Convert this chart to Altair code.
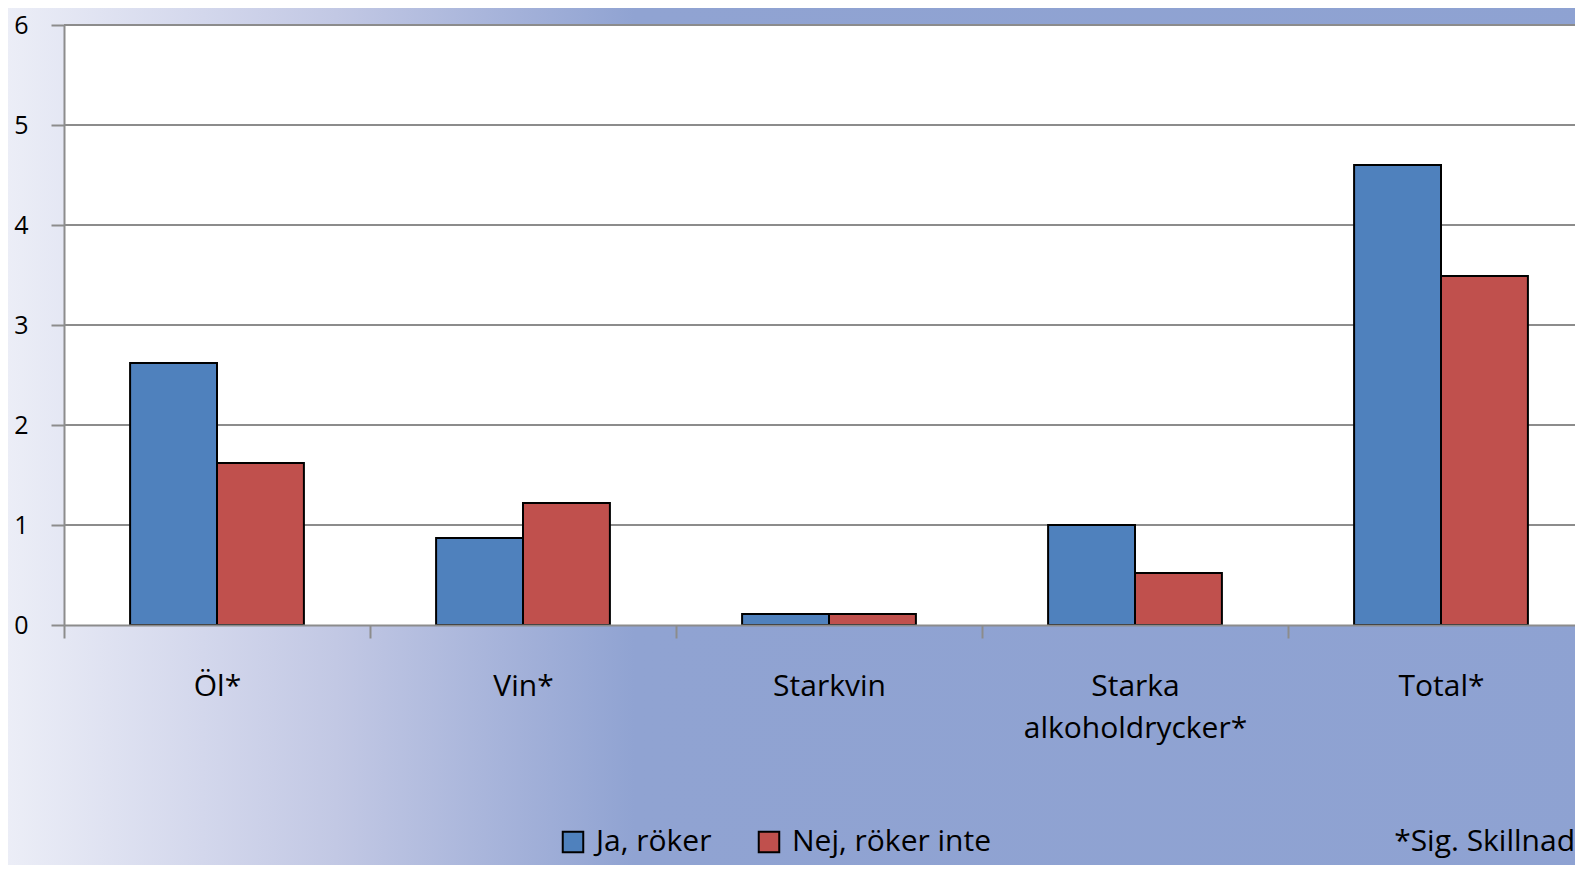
import altair as alt
import pandas as pd

categories = ["Öl*", "Vin*", "Starkvin", "Starka alkoholdrycker*", "Total*"]
series = ["Ja, röker", "Nej, röker inte"]
ja_values = [2.62, 0.87, 0.11, 1.00, 4.60]
nej_values = [1.62, 1.22, 0.11, 0.52, 3.49]
y_ticks = [0, 1, 2, 3, 4, 5, 6]
grid_values = [1, 2, 3, 4, 5, 6]
note = ["*Sig. Skillnad"]
colors = ["#4f81bd", "#c0504d"]

rows = []
for i, c in enumerate(categories):
    rows.append({"kategori": c, "serie": series[0], "varde": ja_values[i]})
    rows.append({"kategori": c, "serie": series[1], "varde": nej_values[i]})
df = pd.DataFrame(rows)

W = 1511
H = 600
TOP = 17
RANGE = 1530
STEP = RANGE / len(categories)
FONT = "Open Sans"
AXIS_GRAY = "#8c8c8c"

x_scale = alt.Scale(domain=categories, range=[0, RANGE], paddingInner=0.432, paddingOuter=0.216)
y_scale = alt.Scale(domain=[0, 6], nice=False)

x_axis = alt.Axis(
    title=None, labelAngle=0, tickSize=13, tickColor=AXIS_GRAY,
    tickOffset=-STEP / 2, labelOffset=STEP / 2,
    tickWidth=2, domainColor=AXIS_GRAY, domainWidth=2, labelFont=FONT,
    labelFontSize=30, labelColor="black", labelPadding=33, labelBaseline="top",
    labelExpr="split(datum.label, ' ')", labelLineHeight=42, labelLimit=0,
    grid=False, zindex=1,
)
y_axis = alt.Axis(
    title=None, values=y_ticks, tickSize=13, tickColor=AXIS_GRAY, tickWidth=2,
    domainColor=AXIS_GRAY, domainWidth=2, labelFont=FONT, labelFontSize=25,
    labelColor="black", labelPadding=23, grid=False, zindex=1,
)

one = pd.DataFrame({"k": [0]})

bg = alt.Chart(one).mark_rect(
    fill=alt.Gradient(
        gradient="linear", x1=0, x2=1, y1=0, y2=0,
        stops=[
            alt.GradientStop(color="#eceef7", offset=0.0),
            alt.GradientStop(color="#d3d7ec", offset=0.12),
            alt.GradientStop(color="#c2c8e4", offset=0.2),
            alt.GradientStop(color="#a6b3da", offset=0.3),
            alt.GradientStop(color="#90a3d2", offset=0.38),
            alt.GradientStop(color="#8ea2d2", offset=1.0),
        ],
    )
).encode(x=alt.value(-60), x2=alt.value(1600), y=alt.value(-30), y2=alt.value(900))

white = alt.Chart(one).mark_rect(fill="white").encode(
    x=alt.value(0), x2=alt.value(RANGE), y=alt.value(0), y2=alt.value(H)
)

grid = alt.Chart(pd.DataFrame({"varde": grid_values})).mark_rule(
    color=AXIS_GRAY, strokeWidth=2
).encode(y=alt.Y("varde:Q", scale=y_scale, axis=y_axis))

bars = alt.Chart(df).mark_bar(stroke="black", strokeWidth=2).encode(
    x=alt.X("kategori:N", scale=x_scale, sort=categories, axis=x_axis),
    xOffset=alt.XOffset("serie:N", sort=series, scale=alt.Scale(domain=series, paddingInner=0, paddingOuter=0)),
    y=alt.Y("varde:Q", scale=y_scale, axis=y_axis),
    color=alt.Color(
        "serie:N",
        scale=alt.Scale(domain=series, range=colors),
        legend=alt.Legend(
            title=None, orient="none", legendX=494, legendY=802, direction="horizontal",
            symbolType="square", symbolSize=420, symbolStrokeColor="black",
            symbolStrokeWidth=2, symbolOpacity=1, labelFont=FONT, labelFontSize=30,
            labelColor="black", labelOffset=8, columnPadding=42, padding=0, labelLimit=0,
        ),
    ),
)

note_layer = alt.Chart(pd.DataFrame({"t": note})).mark_text(
    align="right", baseline="alphabetic", font=FONT, fontSize=30, color="black"
).encode(x=alt.value(W), y=alt.value(826), text="t:N")

chart = alt.layer(bg, white, grid, bars, note_layer).properties(
    width=W, height=H,
    autosize=alt.AutoSizeParams(type="none"),
    padding={"left": 56, "top": TOP, "right": 0, "bottom": 240},
).configure_view(stroke=None)

chart.save("out.html", embed_options={"renderer": "svg", "actions": False})
